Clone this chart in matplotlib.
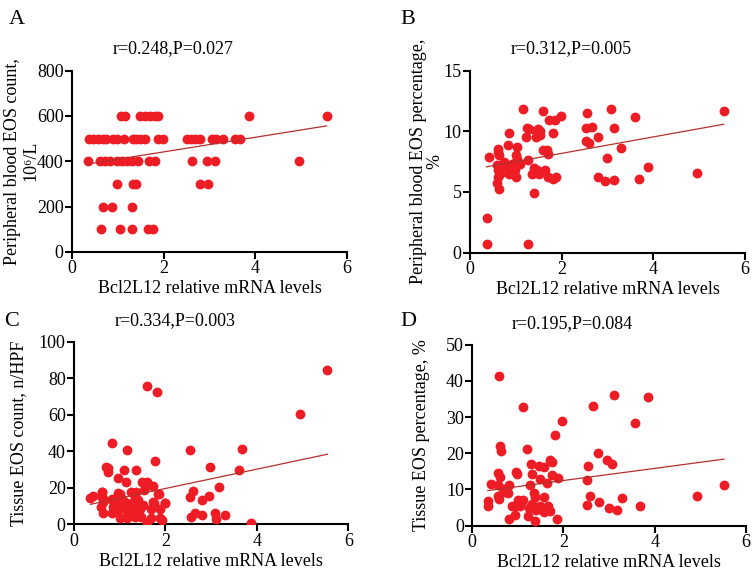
import numpy as np
import matplotlib
matplotlib.use('Agg')
import matplotlib.pyplot as plt

plt.rcParams['font.family'] = ['Liberation Serif', 'DejaVu Serif']

# panel A: peripheral blood EOS count
a_x = [1.07, 1.16, 1.48, 1.59, 1.70, 1.81, 1.88, 3.86, 5.55,
       0.38, 0.45, 0.57, 0.67, 0.74, 0.90, 0.98, 1.14, 1.32, 1.40, 1.48, 1.59, 1.88, 1.99,
       2.50, 2.59, 2.69, 2.79, 3.05, 3.14, 3.30, 3.56, 3.67,
       0.36, 0.61, 0.72, 0.83, 0.98, 1.08, 1.19, 1.30, 1.45, 1.67, 1.81, 2.61, 2.94, 3.12, 4.94,
       0.98, 1.33, 1.40, 2.79, 2.97,
       0.67, 0.88, 1.30,
       0.63, 1.05, 1.30, 1.66, 1.76]
a_y = [600] * 9 + [500] * 23 + [400] * 15 + [300] * 5 + [200] * 3 + [100] * 5
a_fit = (32.3, 377)

# panel B: peripheral blood EOS percentage
b_x = [0.36, 0.42, 0.62, 0.62, 0.64, 0.58, 0.62, 0.65, 0.62, 0.58, 0.64, 0.84, 0.82, 0.74,
       0.79, 0.85, 0.91, 0.98, 1.00, 1.02, 1.00, 1.03, 1.04, 1.08, 1.16, 1.22, 1.25, 1.28,
       1.27, 1.35, 1.40, 1.40, 1.44, 1.44, 1.49, 1.52, 1.52, 1.46, 1.50, 1.60, 1.60, 1.64,
       1.67, 1.70, 1.70, 1.73, 1.80, 1.80, 1.86, 1.87, 1.98, 2.53, 2.56, 2.53, 2.59, 2.67,
       2.79, 2.78, 2.95, 2.99, 3.08, 3.15, 3.13, 3.30, 3.60, 3.68, 3.87, 4.95, 5.53,
       0.36, 1.27]
b_y = [2.86, 7.89, 8.58, 8.30, 8.03, 7.20, 6.79, 6.51, 6.19, 5.74, 5.20, 9.82, 8.85, 7.48,
       7.06, 6.51, 7.34, 6.79, 6.24, 8.71, 8.03, 7.75, 7.48, 7.34, 11.80, 9.49, 10.28, 10.23,
       7.62, 6.51, 4.95, 7.01, 10.00, 9.54, 10.23, 10.00, 9.70, 6.79, 6.51, 11.68, 8.49, 6.79,
       8.43, 8.12, 6.24, 10.97, 9.82, 6.10, 10.97, 6.19, 11.27, 10.28, 11.50, 9.16, 9.00, 10.37,
       9.57, 6.24, 5.86, 7.76, 11.80, 10.28, 6.00, 8.66, 11.20, 6.10, 7.06, 6.60, 11.65,
       0.74, 0.74]
b_fit = (0.68, 6.82)

# panel C: tissue EOS count
c_x = [5.54, 4.95, 1.60, 1.82, 0.84, 1.16, 2.53, 3.68, 1.77, 0.69, 0.75, 0.75, 1.10, 1.36,
       2.98, 3.60, 0.97, 1.14, 1.49, 1.60, 1.64, 1.73, 3.16, 2.61, 0.61, 1.00, 1.28, 1.35,
       1.54, 1.84, 0.41, 0.36, 2.53, 2.95, 2.79, 0.63, 0.84, 1.05, 1.30, 1.48, 1.75, 1.99,
       0.62, 0.61, 0.64, 0.59, 0.64, 0.82, 0.86, 0.82, 0.97, 1.00, 0.97, 1.00, 1.11, 1.11,
       1.15, 1.15, 1.25, 1.30, 1.29, 1.29, 1.33, 1.40, 1.45, 1.47, 1.51, 1.60, 1.69, 1.73,
       1.69, 1.85, 1.88, 1.89, 1.98, 1.92, 2.64, 2.56, 2.80, 3.08, 3.11, 3.30, 3.88]
c_y = [84.5, 60.6, 75.7, 72.4, 44.7, 40.7, 40.7, 41.6, 34.7, 31.5, 31.1, 28.6, 29.7, 29.7,
       31.5, 29.6, 25.7, 23.5, 23.5, 23.5, 21.7, 21.1, 20.6, 18.4, 17.7, 16.6, 17.3, 17.5,
       18.8, 16.4, 15.7, 14.2, 14.8, 15.7, 13.3, 13.7, 13.7, 13.7, 12.4, 10.2, 11.8, 11.8,
       17.9, 15.1, 12.4, 9.6, 6.0, 13.3, 9.6, 6.0, 17.0, 11.5, 7.8, 3.3, 12.5, 9.6,
       6.9, 3.3, 17.9, 17.0, 11.5, 7.8, 4.2, 13.3, 8.6, 4.2, 10.6, 1.4, 8.6, 12.4,
       3.3, 16.7, 8.6, 3.3, 11.5, 2.4, 6.0, 3.8, 5.0, 6.0, 2.7, 5.0, 0.9]
c_fit = (5.3, 9.1)

# panel D: tissue EOS percentage
d_x = [0.59, 1.12, 3.11, 3.86, 2.64, 1.97, 3.57, 1.82, 0.61, 0.62, 1.19, 2.76, 2.96, 3.06,
       1.70, 1.75, 1.28, 1.46, 1.58, 2.54, 0.96, 0.99, 0.57, 0.61, 1.30, 1.74, 1.89, 1.48,
       1.63, 2.51, 0.41, 0.57, 0.81, 1.27, 0.68, 0.71, 0.57, 0.59, 0.79, 1.35, 1.37, 1.58,
       0.34, 0.34, 0.88, 1.01, 1.07, 1.11, 1.24, 1.32, 1.40, 1.48, 1.66, 1.70, 2.51, 2.58,
       2.78, 3.00, 3.18, 3.28, 3.68, 4.93, 5.52,
       0.80, 0.93, 1.23, 1.37, 1.85, 1.51, 1.55, 1.57, 1.05, 0.94]
d_y = [41.3, 32.8, 36.2, 35.7, 33.2, 28.8, 28.4, 25.0, 21.9, 20.7, 21.3, 20.0, 18.2, 17.0,
       18.2, 17.7, 17.1, 16.5, 16.2, 16.5, 14.8, 14.3, 14.6, 13.4, 14.3, 13.9, 13.1, 12.9,
       11.7, 12.5, 11.6, 11.1, 11.1, 11.1, 10.1, 9.2, 8.2, 7.3, 8.9, 8.9, 7.9, 7.8,
       6.9, 5.3, 5.3, 7.0, 6.4, 7.2, 4.9, 5.9, 4.4, 5.3, 5.5, 4.0, 5.6, 8.1,
       6.6, 4.9, 4.4, 7.7, 5.3, 8.1, 11.3,
       1.8, 3.0, 2.7, 1.3, 1.8, 4.7, 4.2, 3.7, 5.3, 5.3]
d_fit = (1.68, 9.1)

panels = [
    ('A', a_x, a_y, a_fit, 'Peripheral blood EOS count,\n10⁶/L', [0, 200, 400, 600, 800], 'r=0.248,P=0.027',
     [0.0957, 0.558, 0.366, 0.318], -0.12, 1.05),
    ('B', b_x, b_y, b_fit, 'Peripheral blood EOS percentage,\n%', [0, 5, 10, 15], 'r=0.312,P=0.005',
     [0.625, 0.557, 0.366, 0.319], -0.098, 0.95),
    ('C', c_x, c_y, c_fit, 'Tissue EOS count, n/HPF', [0, 20, 40, 60, 80, 100], 'r=0.334,P=0.003',
     [0.0984, 0.080, 0.365, 0.320], -0.171, 1.0),
    ('D', d_x, d_y, d_fit, 'Tissue EOS percentage, %', [0, 10, 20, 30, 40, 50], 'r=0.195,P=0.084',
     [0.628, 0.078, 0.364, 0.317], -0.155, 1.0),
]
letter_pos = {'A': (0.012, 0.965), 'B': (0.533, 0.965), 'C': (0.005, 0.436), 'D': (0.533, 0.436)}

fig = plt.figure(figsize=(7.52, 5.70), dpi=100)
for name, xs, ys, fit, ylab, yticks, stat, rect, ylab_x, lsp in panels:
    ax = fig.add_axes(rect)
    ax.scatter(xs, ys, s=50, color='#ee1c24', zorder=3, linewidths=0)
    xl = np.array([min(xs), max(xs)])
    ax.plot(xl, fit[0] * xl + fit[1], color='#b5302c', lw=0.9, zorder=4)
    ax.set_xlim(0, 6)
    ax.set_ylim(yticks[0], yticks[-1])
    ax.set_xticks([0, 2, 4, 6])
    ax.set_yticks(yticks)
    for s in ['top', 'right']:
        ax.spines[s].set_visible(False)
    for s in ['left', 'bottom']:
        ax.spines[s].set_linewidth(1.5)
    ax.tick_params(width=1.5, length=5, labelsize=13, pad=1)
    ax.set_xlabel('Bcl2L12 relative mRNA levels', fontsize=13, labelpad=2)
    ax.set_ylabel(ylab, fontsize=13, linespacing=lsp)
    ax.yaxis.set_label_coords(ylab_x, 0.5)
    ax.text(0.367, 1.12, stat, transform=ax.transAxes, ha='center', va='center', fontsize=13)
    lx, ly = letter_pos[name]
    fig.text(lx, ly, name, fontsize=16, ha='left', va='center')

fig.savefig('out.png', dpi=100)
